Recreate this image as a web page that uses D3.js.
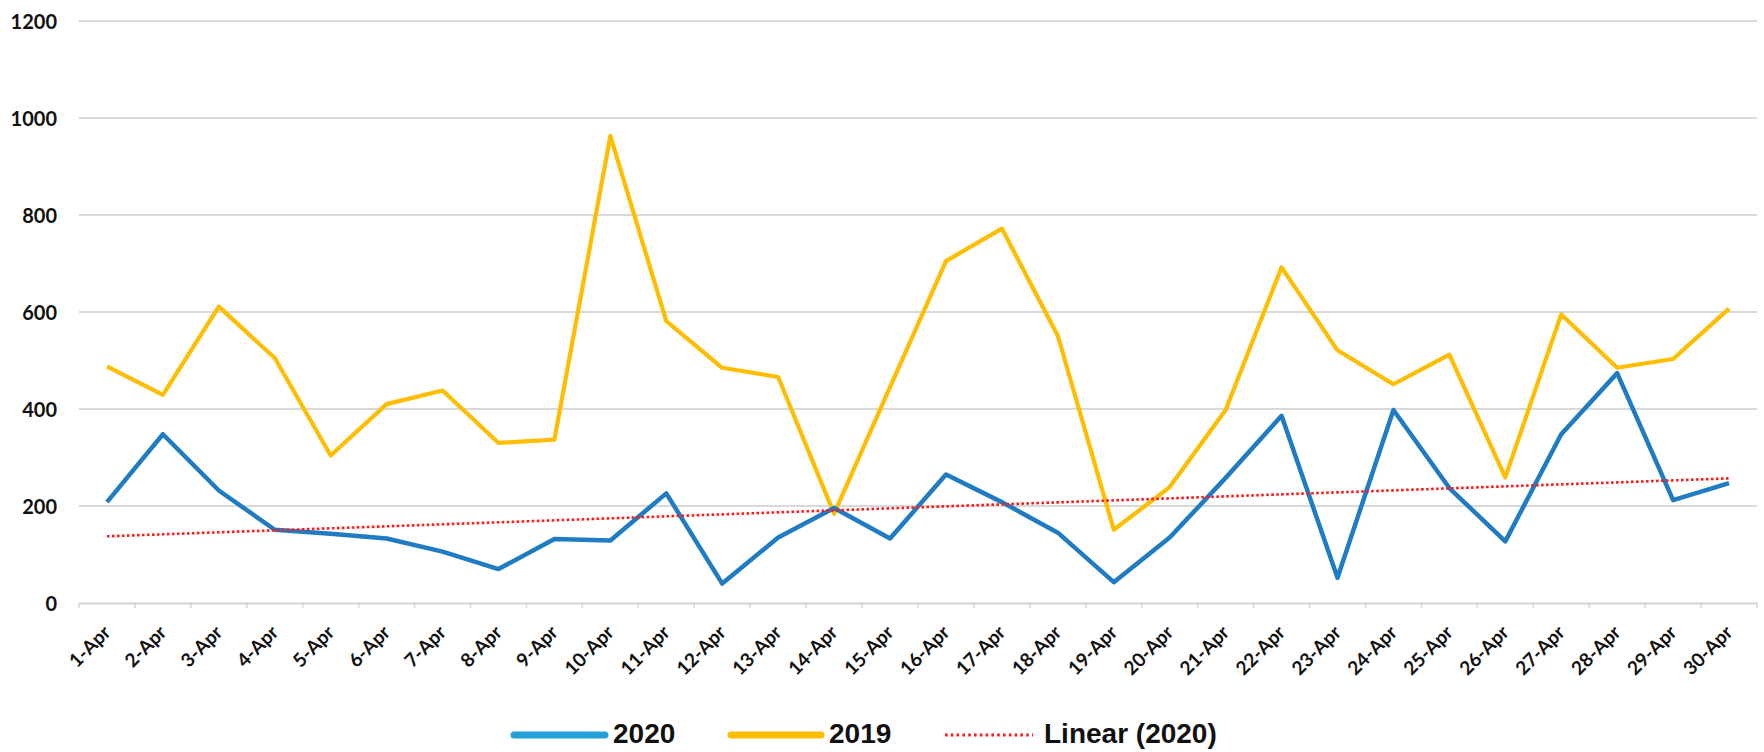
<!DOCTYPE html>
<html>
<head>
<meta charset="utf-8">
<script src="https://cdn.jsdelivr.net/npm/d3@7"></script>
<style>
  html, body { margin: 0; padding: 0; background: #ffffff; }
  svg { display: block; }
</style>
</head>
<body>
<svg id="chart" width="1764" height="752"></svg>
<script>
const categories = ["1-Apr","2-Apr","3-Apr","4-Apr","5-Apr","6-Apr","7-Apr","8-Apr","9-Apr","10-Apr",
  "11-Apr","12-Apr","13-Apr","14-Apr","15-Apr","16-Apr","17-Apr","18-Apr","19-Apr","20-Apr",
  "21-Apr","22-Apr","23-Apr","24-Apr","25-Apr","26-Apr","27-Apr","28-Apr","29-Apr","30-Apr"];
const values2020 = [208, 348, 232, 151, 143, 133, 106, 70, 132, 129,
  226, 40, 135, 196, 133, 265, 208, 145, 43, 135,
  258, 386, 52, 398, 237, 127, 348, 474, 212, 247];
const values2019 = [488, 429, 611, 505, 304, 410, 438, 330, 337, 963,
  581, 485, 466, 184, 445, 705, 772, 551, 151, 239,
  398, 692, 521, 451, 512, 259, 595, 485, 503, 607];
const yTicks = [0, 200, 400, 600, 800, 1000, 1200];
const legendLabels = ["2020", "2019", "Linear (2020)"];

const colBlue = "#1f7cc2", colBlueLegend = "#22a0dc", colYellow = "#ffbd00", colRed = "#ff1a1a";

const svg = d3.select("#chart");
const plot = { left: 79, right: 1757, top: 21, bottom: 603 };

const x = d3.scaleBand().domain(categories).range([plot.left, plot.right]).paddingInner(0).paddingOuter(0);
const y = d3.scaleLinear().domain([0, 1200]).range([plot.bottom, plot.top]);
const cx = d => x(d) + x.bandwidth() / 2;

// gridlines
svg.append("g").selectAll("line").data(yTicks.filter(v => v > 0)).join("line")
  .attr("x1", plot.left).attr("x2", plot.right)
  .attr("y1", d => y(d)).attr("y2", d => y(d))
  .attr("stroke", "#d9d9d9").attr("stroke-width", 2);

// y axis labels
const yAxis = d3.axisLeft(y).tickValues(yTicks).tickSize(0).tickPadding(0).tickFormat(d3.format("d"));
const gy = svg.append("g").attr("transform", `translate(57,0)`).call(yAxis);
gy.select(".domain").remove();
gy.selectAll("text").attr("font-family", "Lato, 'DejaVu Sans', sans-serif").attr("font-weight", 700)
  .attr("font-size", 20).attr("fill", "#111").attr("dy", "0.36em");

// x axis
const xAxis = d3.axisBottom(x).tickSize(0).tickPadding(0);
const gx = svg.append("g").attr("transform", `translate(0,${plot.bottom})`).call(xAxis);
gx.select(".domain").attr("stroke", "#d4d4d4").attr("stroke-width", 2);
gx.selectAll(".tick text")
  .attr("font-family", "Lato, 'DejaVu Sans', sans-serif").attr("font-weight", 700)
  .attr("font-size", 19).attr("fill", "#111")
  .attr("text-anchor", "end").attr("dy", "0.35em")
  .attr("transform", "translate(0,26) rotate(-45)");
// boundary ticks
const bounds = categories.map(c => x(c)).concat([plot.right]);
svg.append("g").selectAll("line").data(bounds).join("line")
  .attr("x1", d => d).attr("x2", d => d)
  .attr("y1", plot.bottom).attr("y2", plot.bottom + 5)
  .attr("stroke", "#d4d4d4").attr("stroke-width", 1.5);

// lines
const line = d3.line().x((d, i) => cx(categories[i])).y(d => y(d));
svg.append("path").datum(values2019).attr("d", line)
  .attr("fill", "none").attr("stroke", colYellow).attr("stroke-width", 4.2).attr("stroke-linejoin", "round");
svg.append("path").datum(values2020).attr("d", line)
  .attr("fill", "none").attr("stroke", colBlue).attr("stroke-width", 4.5).attr("stroke-linejoin", "round");

// linear trend of 2020 (least squares)
const n = values2020.length;
const xs = d3.range(1, n + 1);
const mx = d3.mean(xs), my = d3.mean(values2020);
const slope = d3.sum(xs.map((xi, i) => (xi - mx) * (values2020[i] - my))) / d3.sum(xs.map(xi => (xi - mx) ** 2));
const icpt = my - slope * mx;
const trend = xs.map(xi => icpt + slope * xi);
svg.append("path").datum(trend).attr("d", line)
  .attr("fill", "none").attr("stroke", colRed).attr("stroke-width", 2.6).attr("stroke-dasharray", "2.6,2.4");

// legend
const legY = 733;
const leg = svg.append("g").attr("font-family", "'Liberation Sans', Arial, sans-serif")
  .attr("font-weight", 700).attr("font-size", 28).attr("fill", "#111");
const legItems = [
  { x1: 514, x2: 605, tx: 613, color: colBlueLegend, dash: null, w: 7, label: legendLabels[0] },
  { x1: 731, x2: 821, tx: 829, color: colYellow, dash: null, w: 7, label: legendLabels[1] },
  { x1: 945, x2: 1033, tx: 1044, color: colRed, dash: "2.6,3.2", w: 2.8, label: legendLabels[2] }
];
legItems.forEach(it => {
  const l = leg.append("line").attr("x1", it.x1).attr("x2", it.x2).attr("y1", legY + 2).attr("y2", legY + 2)
    .attr("stroke", it.color).attr("stroke-width", it.w).attr("stroke-linecap", it.dash ? "butt" : "round");
  if (it.dash) l.attr("stroke-dasharray", it.dash);
  leg.append("text").attr("x", it.tx).attr("y", legY).attr("dy", "0.36em").text(it.label);
});
</script>
</body>
</html>
